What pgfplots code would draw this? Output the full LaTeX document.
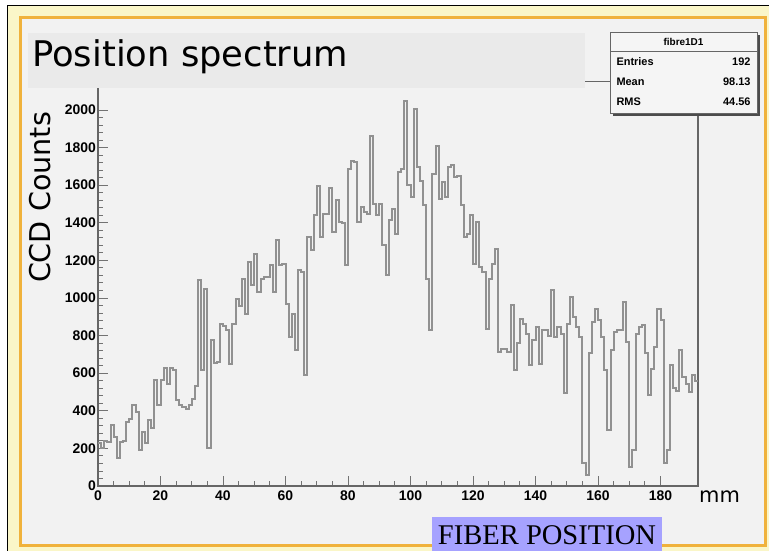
\documentclass[border=0pt]{standalone}
\usepackage{pgfplots}
\pgfplotsset{compat=1.18}
\usepackage{pgfplotstable}
\usepackage{graphicx}
\usepackage{fontspec}
\setmainfont{Liberation Sans}
\newfontfamily\dejavu{DejaVu Sans}
\newfontfamily\serifb{Liberation Serif}
\definecolor{paleyel}{RGB}{250,246,200}
\definecolor{orangeb}{RGB}{240,178,60}
\definecolor{panel}{RGB}{242,242,242}
\definecolor{titlebg}{RGB}{234,234,234}
\definecolor{lav}{RGB}{166,162,255}
\definecolor{histc}{RGB}{145,145,145}

\pgfplotstableread{
x y
0 230
1 200
2 240
3 235
4 324
5 262
6 150
7 235
8 240
9 341
10 359
11 430
12 395
13 191
14 288
15 227
16 350
17 306
18 563
19 430
20 563
21 630
22 545
23 625
24 616
25 457
26 430
27 420
28 408
29 430
30 461
31 530
32 1094
33 616
34 1050
35 200
36 775
37 655
38 660
39 864
40 850
41 830
42 651
43 864
44 997
45 960
46 1103
47 917
48 1191
49 1067
50 1236
51 1032
52 1103
53 1112
54 1112
55 1173
56 1032
57 1306
58 1173
59 1182
60 966
61 793
62 917
63 722
64 1147
65 1138
66 589
67 1324
68 1253
69 1439
70 1598
71 1324
72 1448
73 1448
74 1586
75 1350
76 1519
77 1403
78 1400
79 1173
80 1687
81 1727
82 1722
83 1403
84 1484
85 1457
86 1448
87 1864
88 1501
89 1439
90 1501
91 1280
92 1120
93 1417
94 1474
95 1341
96 1669
97 1687
98 2050
99 1600
100 1536
101 2005
102 1696
103 1622
104 1492
105 1103
106 828
107 1660
108 1811
109 1527
110 1616
111 1536
112 1696
113 1705
114 1643
115 1651
116 1492
117 1324
118 1341
119 1439
120 1182
121 1403
122 1165
123 1138
124 837
125 1103
126 1182
127 1262
128 713
129 730
130 730
131 713
132 961
133 616
134 758
135 890
136 864
137 811
138 642
139 775
140 846
141 651
142 828
143 828
144 800
145 1041
146 793
147 846
148 811
149 492
150 864
151 1005
152 899
153 846
154 793
155 120
156 58
157 705
158 872
159 943
160 881
161 793
162 616
163 297
164 722
165 819
166 828
167 829
168 979
169 766
170 103
171 191
172 811
173 846
174 855
175 705
176 483
177 620
178 738
179 944
180 881
181 120
182 191
183 642
184 519
185 505
186 722
187 580
188 540
189 502
190 593
191 560
192 560
}\histdata

\begin{document}
\begin{tikzpicture}
\useasboundingbox (0bp,0bp) rectangle (769bp,551bp);
\fill[white] (0bp,0bp) rectangle (769bp,551bp);
\fill[paleyel] (7bp,0bp) rectangle (769bp,546bp);
\draw[black, line width=1.2bp] (7.6bp,0bp) -- (7.6bp,545.4bp) -- (769bp,545.4bp);
\fill[panel] (20bp,5bp) rectangle (765bp,533bp);
\draw[orangeb, line width=3bp] (20bp,5bp) rectangle (765bp,533bp);

\begin{axis}[
  at={(98bp,65bp)}, anchor=south west,
  scale only axis, width=600bp, height=404.6bp,
  xmin=0, xmax=192, ymin=0, ymax=2152,
  axis background/.style={fill=panel},
  axis line style={draw=black!60, line width=1.4bp},
  tick align=inside,
  xtick={0,20,...,180}, minor x tick num=3,
  ytick={0,200,...,2000}, minor y tick num=4,
  major tick length=10bp, minor tick length=5bp,
  xtick pos=left, ytick pos=left,
  tick style={draw=black!55, line width=0.9bp},
  /pgf/number format/assume math mode=true,
  /pgf/number format/1000 sep={},
  xticklabel style={font=\fontsize{14}{14}\selectfont\bfseries, yshift=-1bp},
  yticklabel style={font=\fontsize{14}{14}\selectfont\bfseries, xshift=1.5bp},
  clip=false,
]
\addplot[const plot, draw=histc, line width=2bp] table[x=x, y=y] {\histdata};
\end{axis}

% title box
\fill[titlebg] (28bp,463bp) rectangle (585bp,518bp);
\node[anchor=base west, inner sep=0] at (32bp,484bp) {\resizebox{316bp}{!}{\dejavu Position spectrum}};

% stats box
\fill[black!70] (613bp,435bp) rectangle (760bp,516bp);
\fill[white!96!black] (610bp,438bp) rectangle (757bp,519bp);
\draw[black!60, line width=0.8bp] (610bp,438bp) rectangle (757bp,519bp);
\draw[black!60, line width=0.8bp] (610bp,499.5bp) -- (757bp,499.5bp);
\node[font=\fontsize{10}{10}\selectfont\bfseries] at (683.5bp,509.5bp) {fibre1D1};
\node[anchor=west, font=\fontsize{11}{11}\selectfont\bfseries] at (613bp,489bp) {Entries};
\node[anchor=east, font=\fontsize{11}{11}\selectfont\bfseries] at (754bp,489bp) {192};
\node[anchor=west, font=\fontsize{11}{11}\selectfont\bfseries] at (613bp,469bp) {Mean};
\node[anchor=east, font=\fontsize{11}{11}\selectfont\bfseries] at (754bp,469bp) {98.13};
\node[anchor=west, font=\fontsize{11}{11}\selectfont\bfseries] at (613bp,449bp) {RMS};
\node[anchor=east, font=\fontsize{11}{11}\selectfont\bfseries] at (754bp,449bp) {44.56};

% axis titles
\node[rotate=90, inner sep=0] at (40bp,353.5bp) {\resizebox{171bp}{!}{\dejavu CCD Counts}};
\node[anchor=base west, inner sep=0] at (699bp,48bp) {\fontsize{21}{21}\selectfont\dejavu mm};

% fiber position box
\fill[lav] (432bp,0bp) rectangle (662bp,34bp);
\node[inner sep=0] at (547bp,16bp) {\resizebox{218bp}{!}{\serifb FIBER POSITION}};
\end{tikzpicture}
\end{document}
